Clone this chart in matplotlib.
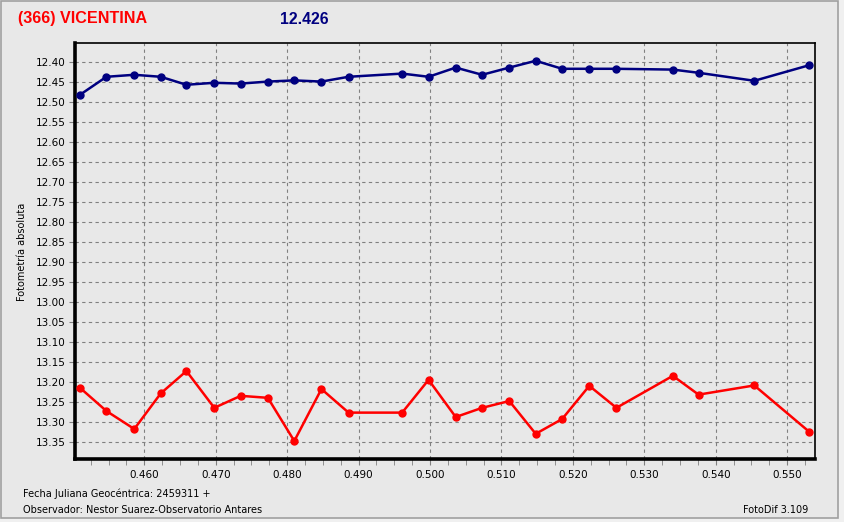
import matplotlib
matplotlib.use("Agg")
import matplotlib.pyplot as plt
from matplotlib.ticker import MultipleLocator, FormatStrFormatter
from matplotlib.patches import Rectangle

plt.rcParams['font.family'] = ['DejaVu Sans']

jd = [0.4510, 0.4547, 0.4586, 0.4623, 0.4659, 0.4698, 0.4735, 0.4773,
      0.4810, 0.4848, 0.4886, 0.4961, 0.4998, 0.5036, 0.5073, 0.5111,
      0.5148, 0.5185, 0.5223, 0.5261, 0.5340, 0.5376, 0.5454, 0.5531]

mag_blue = [12.482, 12.437, 12.432, 12.437, 12.457, 12.452, 12.454, 12.449,
            12.446, 12.449, 12.437, 12.429, 12.437, 12.414, 12.432, 12.414,
            12.397, 12.417, 12.417, 12.417, 12.419, 12.427, 12.447, 12.408]

mag_red = [13.215, 13.273, 13.318, 13.229, 13.173, 13.265, 13.235, 13.240,
           13.348, 13.218, 13.277, 13.277, 13.195, 13.288, 13.265, 13.248,
           13.330, 13.293, 13.210, 13.265, 13.185, 13.232, 13.209, 13.325]

title_left = "(366) VICENTINA"
title_mag = "12.426"
ylabel = "Fotometría absoluta"
foot1 = "Fecha Juliana Geocéntrica: 2459311 +"
foot2 = "Observador: Nestor Suarez-Observatorio Antares"
foot3 = "FotoDif 3.109"

W, H = 844, 522
fig = plt.figure(figsize=(W / 100, H / 100), dpi=100)
bg = "#E8E8E8"
fig.patch.set_facecolor("#F0F0F0")
fig.patches.append(Rectangle((1 / W, 4 / H), 837 / W, 517 / H, transform=fig.transFigure,
                             facecolor=bg, edgecolor="#A0A0A0", linewidth=1.2, zorder=-10))

ax = fig.add_axes([75 / W, 1 - 459 / H, (815 - 75) / W, (459 - 43) / H])
ax.set_facecolor(bg)

ax.plot(jd, mag_blue, color="#000080", lw=1.8, marker="o", ms=5, zorder=3)
ax.plot(jd, mag_red, color="#FF0000", lw=1.8, marker="o", ms=5, zorder=3)

ax.set_xlim(0.4503, 0.5539)
ax.set_ylim(13.393, 12.3525)

ax.xaxis.set_major_locator(MultipleLocator(0.010))
ax.xaxis.set_minor_locator(MultipleLocator(0.0025))
ax.xaxis.set_major_formatter(FormatStrFormatter("%.3f"))
ax.yaxis.set_major_locator(MultipleLocator(0.05))
ax.yaxis.set_major_formatter(FormatStrFormatter("%.2f"))

ax.grid(True, which="major", color="#808080", linestyle=(0, (3, 3)), linewidth=0.8)
ax.tick_params(axis="both", which="major", labelsize=7.5, length=4, color="#808080")
ax.tick_params(axis="x", which="minor", length=4, color="#808080")
ax.tick_params(axis="x", pad=4)
ax.tick_params(axis="y", pad=3)

for s in ["left", "bottom"]:
    ax.spines[s].set_linewidth(2.6)
for s in ["top", "right"]:
    ax.spines[s].set_linewidth(1.2)

fig.text(18 / W, 1 - 19 / H, title_left, color="#FF0000", fontsize=11.6, fontweight="bold",
         family="Liberation Sans", va="center", ha="left")
fig.text(280 / W, 1 - 19 / H, title_mag, color="#000080", fontsize=11.3, fontweight="bold",
         family="Liberation Sans", va="center", ha="left")
fig.text(22 / W, 1 - 252 / H, ylabel, rotation=90, fontsize=7, va="center", ha="center")
fig.text(23 / W, 1 - 494 / H, foot1, fontsize=7, va="center", ha="left")
fig.text(23 / W, 1 - 510 / H, foot2, fontsize=7, va="center", ha="left")
fig.text(808 / W, 1 - 510 / H, foot3, fontsize=7, va="center", ha="right")

fig.savefig("out.png", dpi=100, facecolor=fig.get_facecolor())
